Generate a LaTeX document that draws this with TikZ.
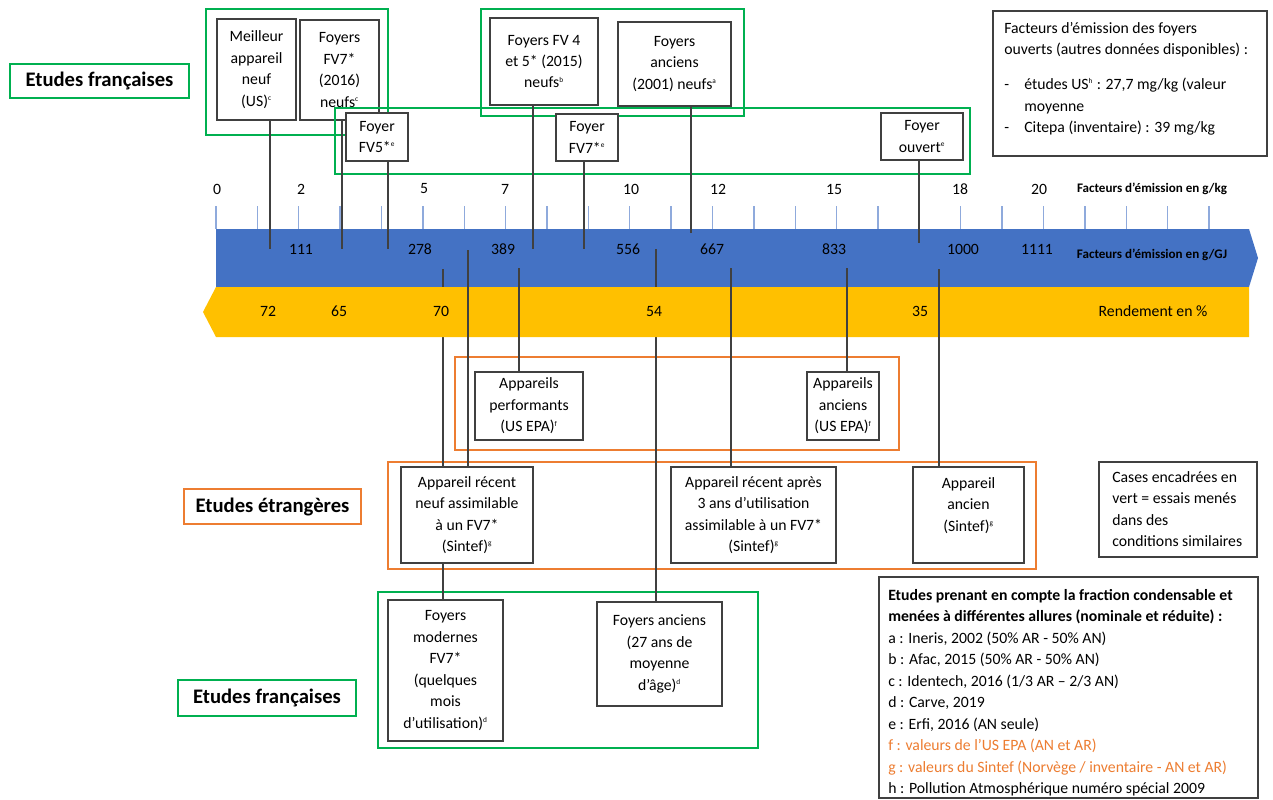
\documentclass[tikz,border=0pt]{standalone}
\usepackage{fontspec}
\setmainfont{Carlito}
\definecolor{gr}{HTML}{00B050}
\definecolor{orng}{HTML}{ED7D31}
\definecolor{bandblue}{HTML}{4472C4}
\definecolor{bandgold}{HTML}{FFC000}
\definecolor{tickblue}{HTML}{8FAADC}
\definecolor{dk}{HTML}{404040}
\newcommand{\fs}{\fontsize{11.8}{16.1}\selectfont}
\newcommand{\ssup}[1]{\textsuperscript{\fontsize{5.5}{6}\selectfont #1}}
\tikzset{
 bb/.style n args={4}{minimum width={(#3-#1)*0.75pt}, minimum height={(#4-#2)*0.75pt}, at={({(#1+#3)/2},{(#2+#4)/2})}},
 box/.style={draw=dk, line width=1.1pt, fill=white, inner sep=0pt, align=center, font=\fs},
 plainbox/.style={draw=dk, line width=1.1pt, inner sep=0pt},
 gframe/.style={draw=gr, line width=1.7pt, inner sep=0pt},
 oframe/.style={draw=orng, line width=1.7pt, inner sep=0pt},
 glabel/.style={draw=gr, line width=1.1pt, inner sep=0pt, font=\fontsize{15.5}{18}\selectfont\bfseries},
 olabel/.style={draw=orng, line width=1.1pt, inner sep=0pt, font=\fontsize{15.5}{18}\selectfont\bfseries},
 conn/.style={draw=dk, line width=1pt},
 num/.style={font=\fs, inner sep=0pt},
 axlab/.style={font=\fontsize{9.8}{12}\selectfont\bfseries, inner sep=0pt},
 axtick/.style={draw=tickblue, line width=1pt},
 txt/.style={font=\fs, inner sep=0pt, align=left, anchor=north west}
}
\begin{document}
\begin{tikzpicture}[x=0.75pt,y=-0.75pt]
\useasboundingbox (0,0) rectangle (1273,799);
\fill[white] (0,0) rectangle (1273,799);

% side labels
\node[glabel, bb={10}{64}{189}{98}] (lab1) {Etudes françaises};
\node[olabel, bb={184}{489}{361}{524}] (lab2) {Etudes étrangères};
\node[glabel, bb={178}{680}{356}{716}] (lab3) {Etudes françaises};

% top groups
\node[gframe, bb={206}{9}{388}{135}] (gf1) {};
\node[box, bb={217}{19}{296}{120}] (b1) {Meilleur\\appareil\\neuf\\(US)\ssup{c}};
\node[box, bb={300}{20}{379}{120}] (b2) {Foyers\\FV7*\\(2016)\\neufs\ssup{c}};
\node[gframe, bb={335}{108}{970}{174}] (gf2) {};
\node[gframe, bb={481}{9}{744}{116}] (gf3) {};
\node[box, bb={346}{113}{408}{161}] (b3) {Foyer\\FV5*\ssup{e}};
\node[box, bb={490}{18}{598}{105}] (b4) {Foyers FV 4\\et 5* (2015)\\neufs\ssup{b}};
\node[box, bb={556}{114}{618}{161}] (b5) {Foyer\\FV7*\ssup{e}};
\node[box, bb={618}{22}{731}{106}] (b6) {Foyers\\anciens\\(2001) neufs\ssup{a}};
\node[box, bb={881}{113}{963}{160}] (b7) {Foyer\\ouvert\ssup{e}};

% info box top right
\node[plainbox, bb={993}{11}{1267}{156}] (info) {};
\node[txt] (infotxt) at (1004,22) {Facteurs d’émission des foyers\\ouverts (autres données disponibles) :\\[10pt]\makebox[15pt][l]{-}études US\ssup{h} : 27,7 mg/kg (valeur\\\hspace*{15pt}moyenne\\\makebox[15pt][l]{-}Citepa (inventaire) : 39 mg/kg};

% foreign studies
\node[oframe, bb={455}{357}{899}{450}] (of1) {};
\node[box, bb={475}{372}{583}{440}] (b9) {Appareils\\performants\\(US EPA)\ssup{f}};
\node[box, bb={807}{372}{879}{440}] (b11) {Appareils\\anciens\\(US EPA)\ssup{f}};
\node[oframe, bb={388}{462}{1036}{569}] (of2) {};
\node[box, bb={401}{467}{533}{563}] (b8) {Appareil récent\\neuf assimilable\\à un FV7*\\(Sintef)\ssup{g}};
\node[box, bb={671}{467}{836}{563}] (b10) {Appareil récent après\\3 ans d’utilisation\\assimilable à un FV7*\\(Sintef)\ssup{g}};
\node[box, bb={913}{467}{1024}{563}] (b12) {Appareil\\ancien\\(Sintef)\ssup{g}\\\mbox{}};

% bottom french studies
\node[gframe, bb={378}{592}{758}{748}] (gf4) {};
\node[box, bb={388}{600}{503}{741}] (b14) {Foyers\\modernes\\FV7*\\(quelques\\mois\\d’utilisation)\ssup{d}};
\node[box, bb={597}{602}{722}{706}] (b13) {Foyers anciens\\(27 ans de\\moyenne\\d’âge)\ssup{d}};

% cases box
\node[plainbox, bb={1099}{462}{1257}{557}] (cases) {};
\node[txt] (casestxt) at (1112,471) {Cases encadrées en\\vert = essais menés\\dans des\\conditions similaires};

% legend
\node[plainbox, bb={879}{577}{1258}{798}] (leg) {};
\node[txt] (legtxt) at (888,589) {\textbf{Etudes prenant en compte la fraction condensable et}\\
\textbf{menées à différentes allures (nominale et réduite) :}\\
a : Ineris, 2002 (50\% AR - 50\% AN)\\
b : Afac, 2015 (50\% AR - 50\% AN)\\
c : Identech, 2016 (1/3 AR – 2/3 AN)\\
d : Carve, 2019\\
e : Erfi, 2016 (AN seule)\\
\textcolor{orng}{f : valeurs de l’US EPA (AN et AR)}\\
\textcolor{orng}{g : valeurs du Sintef (Norvège / inventaire - AN et AR)}\\
h : Pollution Atmosphérique numéro spécial 2009};

% blue band
\fill[bandblue] (216,229) -- (1249,229) -- (1258,258) -- (1249,287) -- (216,287) -- cycle;
\foreach \i in {0,...,24} \draw[axtick] ({216+41.375*\i},206) -- ({216+41.375*\i},229);

% lines hidden by the gold band
\coordinate (q8) at (443,269);
\coordinate (q11) at (656,249);
\draw[conn] (q8) -- (b8.north -| q8);
\draw[conn] (q11) -- (b13.north -| q11);

% gold band
\fill[bandgold] (216,287) -- (1249,287) -- (1249,337) -- (216,337) -- (203,312) -- cycle;

% connectors from top boxes
\coordinate (p1) at (270,249);
\coordinate (p2) at (342,249);
\coordinate (p3) at (388,249);
\coordinate (p4) at (533,249);
\coordinate (p5) at (584,249);
\coordinate (p6) at (691,233);
\coordinate (p7) at (919,243);
\draw[conn] (b1.south -| p1) -- (p1);
\draw[conn] (b2.south -| p2) -- (p2);
\draw[conn] (b3.south -| p3) -- (p3);
\draw[conn] (b4.south -| p4) -- (p4);
\draw[conn] (b5.south -| p5) -- (p5);
\draw[conn] (b6.south -| p6) -- (p6);
\draw[conn] (b7.south -| p7) -- (p7);

% connectors to bottom boxes
\coordinate (q9) at (468,250);
\coordinate (q10) at (519,268);
\coordinate (q12) at (731,268);
\coordinate (q13) at (847,268);
\coordinate (q14) at (939,269);
\draw[conn] (q9) -- (b8.north -| q9);
\draw[conn] (q10) -- (b9.north -| q10);
\draw[conn] (q12) -- (b10.north -| q12);
\draw[conn] (q13) -- (b11.north -| q13);
\draw[conn] (q14) -- (b12.north -| q14);
\draw[conn] (b8.south -| q8) -- (b14.north -| q8);

% axis numbers
\foreach \t/\x in {0/217,2/301,5/424,7/505,10/631,12/718,15/834,18/960,20/1039}
  \node[num] (kg\t) at (\x,189) {\t};
\foreach \t/\x in {111/301,278/420,389/503,556/628,667/712,833/834,1000/963,1111/1037}
  \node[num] (gj\t) at (\x,249) {\t};
\foreach \t/\x in {72/268,65/339,70/441,54/654,35/920}
  \node[num] (rd\t) at (\x,311) {\t};
\node[axlab] (axkg) at (1152,189) {Facteurs d’émission en g/kg};
\node[axlab] (axgj) at (1152,255) {Facteurs d’émission en g/GJ};
\node[num] (axrd) at (1153,311) {Rendement en \%};
\end{tikzpicture}
\end{document}
